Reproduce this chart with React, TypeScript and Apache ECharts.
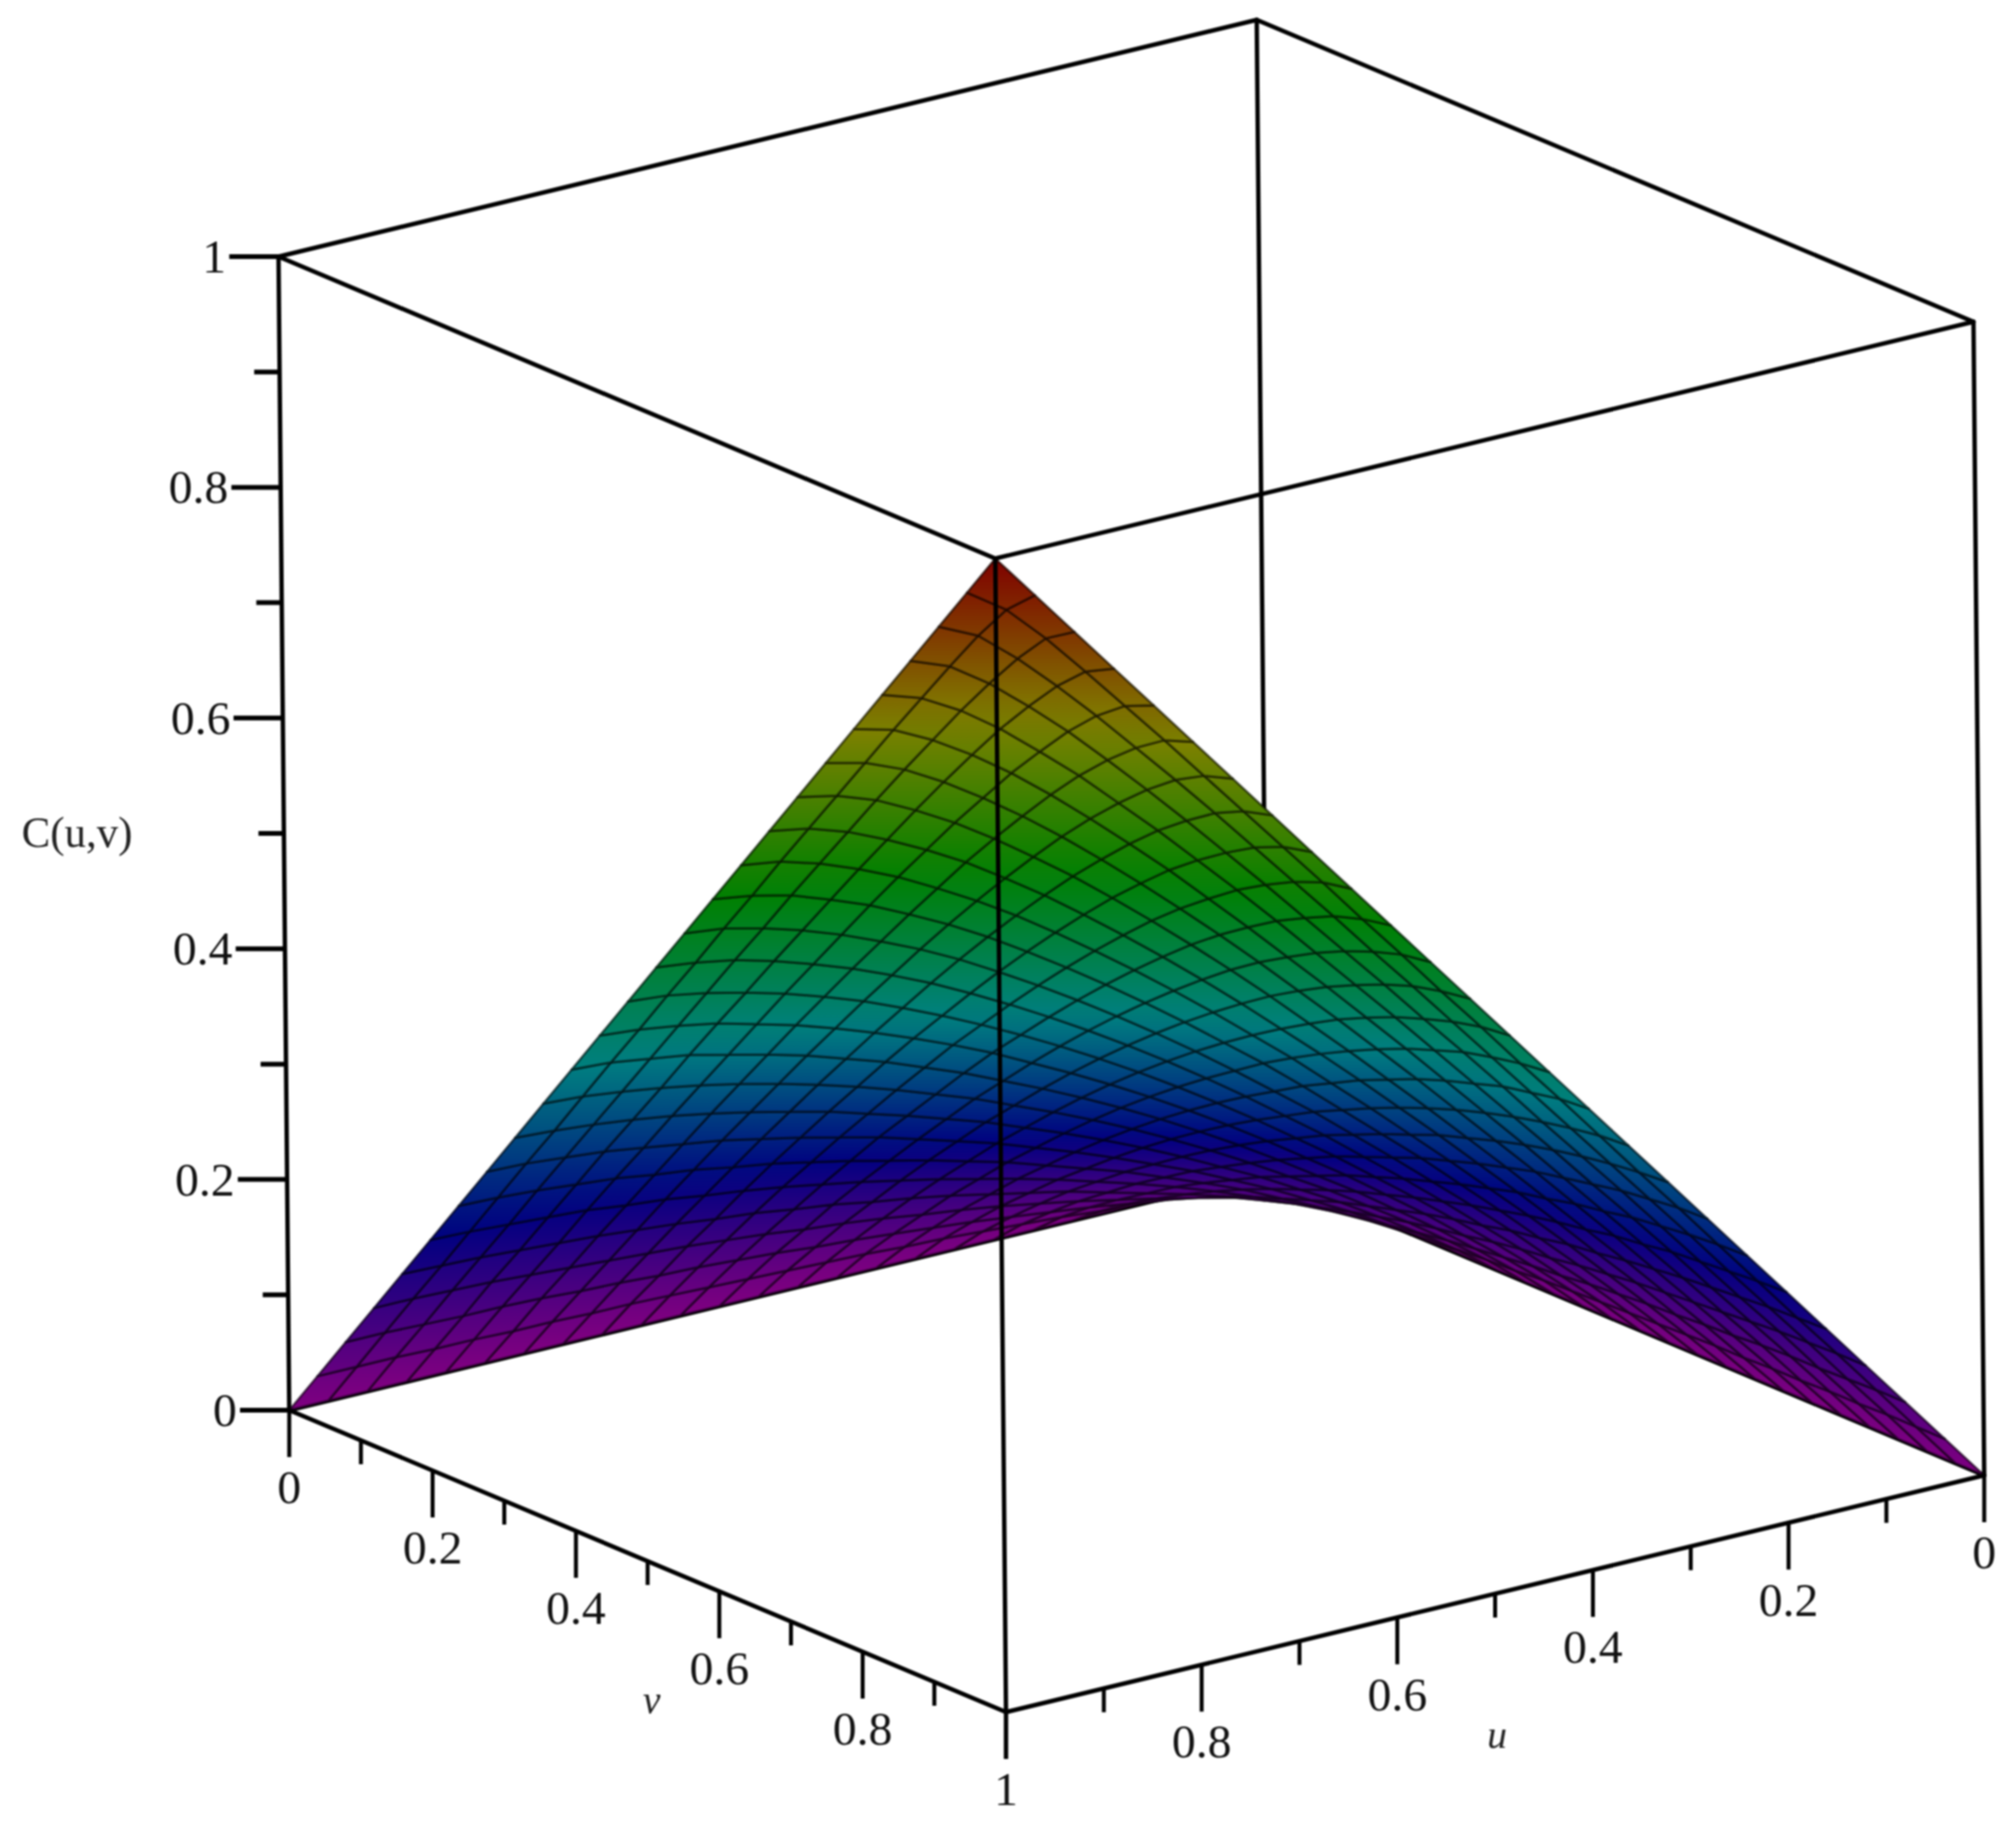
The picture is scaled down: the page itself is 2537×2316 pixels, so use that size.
import React, { useEffect, useRef } from "react";
import * as echarts from "echarts";

// C(u,v) on a 26 x 26 mesh (u = i/25, v = j/25), in thousandths. The surface is symmetric, so only j <= i is listed.
// These are estimates: a smooth copula-shaped surface fitted by hand to mesh crossings and the silhouette measured
// in the reference, then typed out. They are not read one by one from the picture.
const surfaceRows: number[][] = [
  [0],
  [0, 6],
  [0, 10, 18],
  [0, 14, 25, 35],
  [0, 17, 31, 43, 55],
  [0, 19, 36, 51, 65, 78],
  [0, 22, 41, 58, 74, 90, 104],
  [0, 24, 45, 65, 83, 101, 117, 133],
  [0, 26, 49, 71, 92, 111, 130, 147, 164],
  [0, 28, 53, 77, 99, 121, 141, 161, 180, 198],
  [0, 29, 56, 82, 106, 130, 152, 174, 195, 215, 234],
  [0, 31, 59, 86, 113, 138, 163, 186, 209, 231, 252, 272],
  [0, 32, 62, 91, 119, 146, 172, 198, 222, 246, 269, 291, 312],
  [0, 33, 64, 95, 124, 153, 181, 208, 235, 260, 285, 309, 332, 354],
  [0, 34, 67, 98, 130, 160, 189, 218, 246, 274, 300, 326, 351, 375, 398],
  [0, 35, 69, 102, 134, 166, 197, 228, 257, 286, 315, 343, 369, 395, 420, 444],
  [0, 36, 71, 105, 139, 172, 204, 236, 267, 298, 328, 358, 386, 414, 441, 467, 492],
  [0, 37, 72, 108, 142, 177, 211, 244, 277, 309, 341, 372, 402, 432, 461, 489, 516, 542],
  [0, 37, 74, 110, 146, 181, 216, 251, 285, 319, 352, 385, 417, 449, 480, 510, 539, 567, 594],
  [0, 38, 75, 112, 149, 186, 222, 258, 293, 328, 363, 397, 431, 464, 497, 529, 560, 590, 619, 647],
  [0, 38, 77, 114, 152, 189, 226, 263, 300, 336, 372, 408, 443, 478, 512, 546, 579, 612, 643, 673, 702],
  [0, 39, 78, 116, 154, 193, 231, 268, 306, 343, 380, 417, 454, 490, 526, 562, 597, 631, 665, 697, 729, 758],
  [0, 39, 78, 118, 156, 195, 234, 273, 311, 349, 388, 426, 463, 501, 538, 575, 612, 648, 684, 719, 753, 786, 816],
  [0, 40, 79, 119, 158, 197, 237, 276, 315, 354, 393, 432, 471, 510, 548, 587, 625, 663, 701, 738, 774, 810, 844, 876],
  [0, 40, 80, 120, 159, 199, 239, 279, 318, 358, 398, 437, 477, 516, 556, 595, 635, 674, 713, 752, 791, 829, 867, 904, 937],
  [0, 40, 80, 120, 160, 200, 240, 280, 320, 360, 400, 440, 480, 520, 560, 600, 640, 680, 720, 760, 800, 840, 880, 920, 960, 1000],
];

const boxBackEdges: number[][] = [
  [1, 0, 1, 0, 0, 1],
  [0, 0, 1, 0, 1, 1],
  [0, 1, 1, 1, 1, 1],
  [1, 1, 1, 1, 0, 1],
  [1, 0, 0, 1, 0, 1],
  [0, 1, 0, 0, 1, 1],
  [0, 0, 0, 0, 0, 1],
  [1, 0, 0, 0, 0, 0],
  [0, 0, 0, 0, 1, 0],
];
const boxFrontEdges: number[][] = [
  [1, 1, 0, 1, 1, 1],
  [1, 0, 0, 1, 1, 0],
  [1, 1, 0, 0, 1, 0],
];
const tickValues = [0, 0.1, 0.2, 0.3, 0.4, 0.5, 0.6, 0.7, 0.8, 0.9, 1];
const majorTicks = [0, 0.2, 0.4, 0.6, 0.8, 1];
const vLabels = ["0", "0.2", "0.4", "0.6", "0.8", "1"];
const uLabels = ["0", "0.2", "0.4", "0.6", "0.8"];
const zLabels = ["0", "0.2", "0.4", "0.6", "0.8", "1"];

const N = surfaceRows.length - 1;
const valueAt = (i: number, j: number) =>
  (i >= j ? surfaceRows[i][j] : surfaceRows[j][i]) / 1000;

// Orthographic projection of the plot box onto the hidden x/y axes.
const project = (u: number, v: number, z: number): number[] => [
  1595 - 1231 * u + 902 * v - 13.5 * z,
  1477 + 298 * u + 380 * v - 1452 * z,
];

const hueStops = [
  [128, 0, 128],
  [0, 0, 128],
  [0, 128, 128],
  [0, 128, 0],
  [128, 128, 0],
  [128, 0, 0],
];
const colorOf = (z: number) => {
  const t = Math.min(0.9999, Math.max(0, z)) * 5;
  const k = Math.floor(t);
  const f = t - k;
  const a = hueStops[k];
  const b = hueStops[k + 1];
  return `rgb(${Math.round(a[0] + (b[0] - a[0]) * f)},${Math.round(a[1] + (b[1] - a[1]) * f)},${Math.round(a[2] + (b[2] - a[2]) * f)})`;
};

const cells: number[][] = [];
for (let i = 0; i < N; i++) for (let j = 0; j < N; j++) cells.push([i, j]);

const LINE = "#000";
const FONT = "'Liberation Serif', 'Times New Roman', serif";

type Seg = { a: number[]; dx: number; dy: number; w: number };
const ticks: Seg[] = [];
tickValues.forEach((t) => {
  const major = majorTicks.includes(t);
  ticks.push({ a: [1, 0, t], dx: major ? -62 : -32, dy: 0, w: 6 });
  ticks.push({ a: [1, t, 0], dx: 0, dy: major ? 59 : 30, w: 5 });
  ticks.push({ a: [t, 1, 0], dx: 0, dy: major ? 59 : 30, w: 5 });
});

type Lab = { p: number[]; dx: number; dy: number; text: string; align: string; size: number; italic?: boolean };
const labels: Lab[] = [];
majorTicks.forEach((t, k) => {
  labels.push({ p: [1, 0, t], dx: -66, dy: 0, text: zLabels[k], align: "right", size: 60 });
  labels.push({ p: [1, t, 0], dx: 0, dy: 97, text: vLabels[k], align: "center", size: 60 });
  if (k < uLabels.length) labels.push({ p: [t, 1, 0], dx: 0, dy: 97, text: uLabels[k], align: "center", size: 60 });
});
const axisNames = [
  { text: "C(u,v)", x: 97, y: 1048, size: 54, italic: false },
  { text: "v", x: 820, y: 2139, size: 50, italic: true },
  { text: "u", x: 1884, y: 2183, size: 50, italic: true },
];

export default function App() {
  const ref = useRef<HTMLDivElement>(null);
  useEffect(() => {
    const chart = echarts.init(ref.current!, undefined, { renderer: "svg" });
    const lineSeries = (edges: number[][], z: number, width: number) => ({
      type: "custom",
      coordinateSystem: "cartesian2d",
      z,
      silent: true,
      clip: false,
      data: edges.map((_, k) => [k, k]),
      renderItem: (params: any, api: any) => {
        const e = edges[params.dataIndex];
        const a = api.coord(project(e[0], e[1], e[2]));
        const b = api.coord(project(e[3], e[4], e[5]));
        return {
          type: "line",
          shape: { x1: a[0], y1: a[1], x2: b[0], y2: b[1] },
          style: { stroke: LINE, lineWidth: width, lineCap: "round" },
        };
      },
    });
    chart.setOption({
      animation: false,
      backgroundColor: "#ffffff",
      grid: { left: 0, right: 0, top: 0, bottom: 0 },
      xAxis: { type: "value", min: 0, max: 2537, show: false },
      yAxis: { type: "value", min: 0, max: 2316, inverse: true, show: false },
      series: [
        lineSeries(boxBackEdges, 1, 5.5),
        {
          type: "custom",
          coordinateSystem: "cartesian2d",
          z: 2,
          silent: true,
          clip: false,
          progressive: 0,
          data: cells,
          renderItem: (params: any, api: any) => {
            const [i, j] = cells[params.dataIndex];
            const corners = [
              [i, j],
              [i + 1, j],
              [i + 1, j + 1],
              [i, j + 1],
            ];
            const zs = corners.map((c) => valueAt(c[0], c[1]));
            const pts = corners.map((c, k) => api.coord(project(c[0] / N, c[1] / N, zs[k])));
            const hi = colorOf(Math.max(...zs));
            const lo = colorOf(Math.min(...zs));
            const mid = colorOf((Math.max(...zs) + Math.min(...zs)) / 2);
            return {
              type: "group",
              children: [
                {
                  type: "polygon",
                  shape: { points: pts },
                  style: {
                    fill: new echarts.graphic.LinearGradient(0, 0, 0, 1, [
                      { offset: 0, color: hi },
                      { offset: 1, color: lo },
                    ]),
                    stroke: mid,
                    lineWidth: 1,
                  },
                },
                {
                  type: "polygon",
                  shape: { points: pts },
                  style: { fill: "none", stroke: "rgba(0,0,0,0.55)", lineWidth: 3, lineJoin: "round" },
                },
              ],
            };
          },
        },
        lineSeries(boxFrontEdges, 3, 5.5),
        {
          type: "custom",
          coordinateSystem: "cartesian2d",
          z: 3,
          silent: true,
          clip: false,
          data: ticks.map((_, k) => [k, k]),
          renderItem: (params: any, api: any) => {
            const t = ticks[params.dataIndex];
            const a = api.coord(project(t.a[0], t.a[1], t.a[2]));
            return {
              type: "line",
              shape: { x1: a[0], y1: a[1], x2: a[0] + t.dx, y2: a[1] + t.dy },
              style: { stroke: LINE, lineWidth: t.w },
            };
          },
        },
        {
          type: "custom",
          coordinateSystem: "cartesian2d",
          z: 3,
          silent: true,
          clip: false,
          data: labels.map((_, k) => [k, k]),
          renderItem: (params: any, api: any) => {
            const l = labels[params.dataIndex];
            const a = api.coord(project(l.p[0], l.p[1], l.p[2]));
            return {
              type: "text",
              style: {
                x: a[0] + l.dx,
                y: a[1] + l.dy,
                text: l.text,
                fill: "#111",
                fontFamily: FONT,
                fontSize: l.size,
                align: l.align,
                verticalAlign: "middle",
              },
            };
          },
        },
        {
          type: "custom",
          coordinateSystem: "cartesian2d",
          z: 3,
          silent: true,
          clip: false,
          data: axisNames.map((_, k) => [k, k]),
          renderItem: (params: any, api: any) => {
            const l = axisNames[params.dataIndex];
            const a = api.coord([l.x, l.y]);
            return {
              type: "text",
              style: {
                x: a[0],
                y: a[1],
                text: l.text,
                fill: "#222",
                fontFamily: FONT,
                fontSize: l.size,
                fontStyle: l.italic ? "italic" : "normal",
                align: "center",
                verticalAlign: "middle",
              },
            };
          },
        },
      ],
    });
    return () => chart.dispose();
  }, []);
  return <div ref={ref} style={{ position: "fixed", left: 0, top: 0, width: 2537, height: 2316, background: "#fff", filter: "blur(0.8px)" }} />;
}
